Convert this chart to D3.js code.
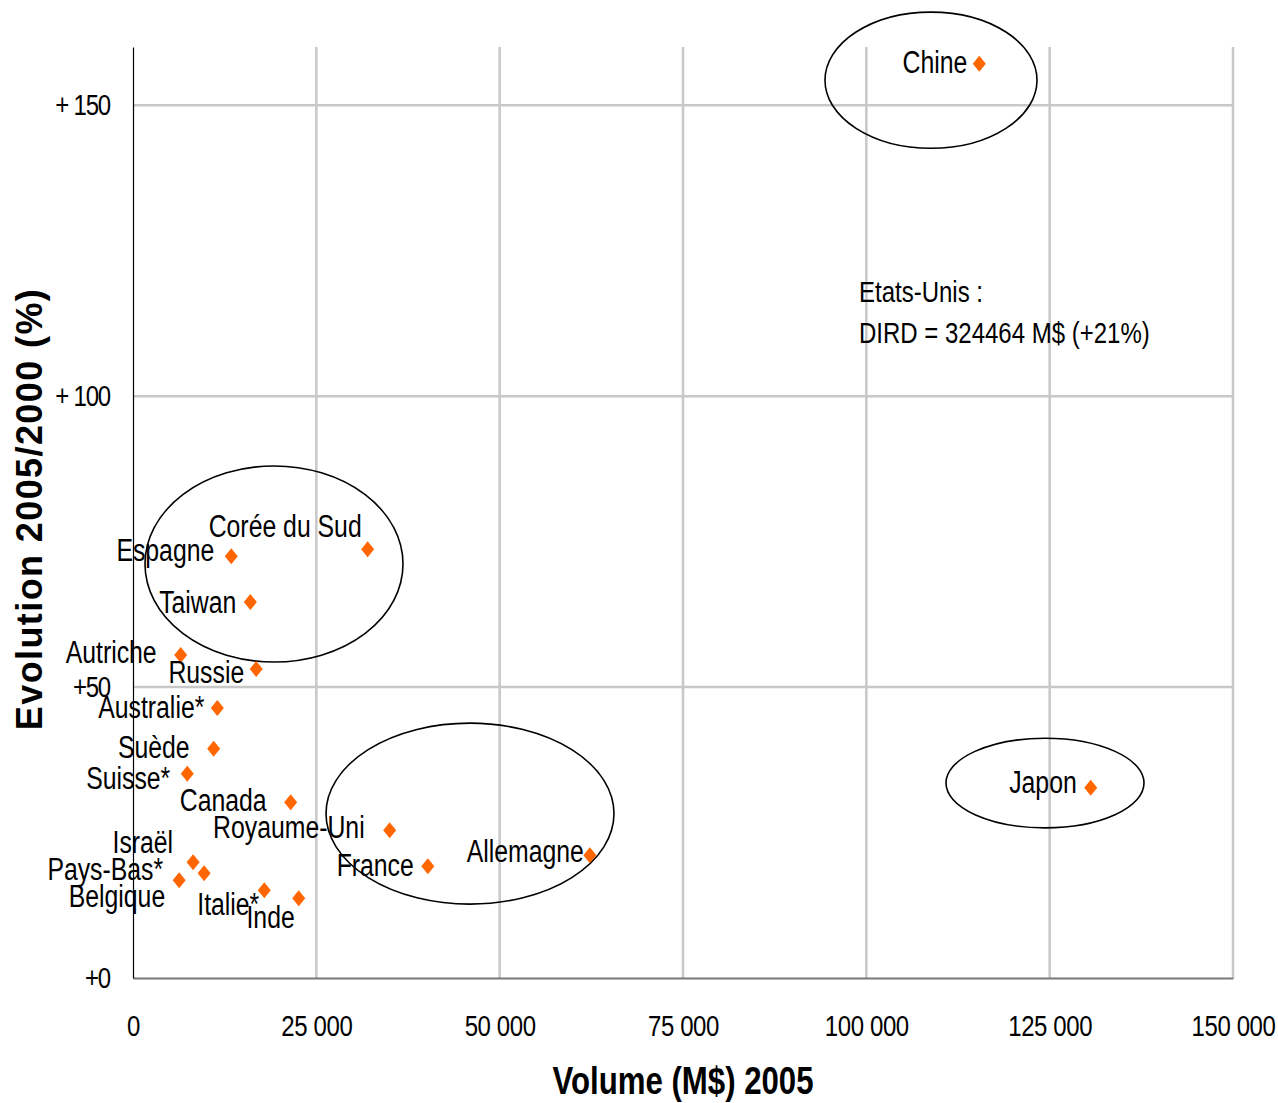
<!DOCTYPE html>
<html lang="fr">
    <head>
        <meta charset="UTF-8"/>
        <title>DIRD 2005</title>
        <script src="https://d3js.org/d3.v7.min.js"></script>
        <style>
            body { margin: 0; background-color: #fff; }
            svg { display: block; }
            text { font-family: "Liberation Sans", Arial, sans-serif; fill: #000; }
        </style>
    </head>
    <body>
        <div id="graphique"></div>
        <script>
            // donnees
            const pays = ["Chine", "Japon", "Corée du Sud", "Espagne", "Taiwan", "Autriche", "Russie",
                "Australie*", "Suède", "Suisse*", "Canada", "Royaume-Uni", "Allemagne", "France",
                "Israël", "Pays-Bas*", "Belgique", "Italie*", "Inde"];
            const volumes = [115400, 130600, 32000, 13400, 16000, 6500, 16800,
                11500, 11000, 7400, 21500, 35000, 62300, 40200,
                8200, 9700, 6300, 17900, 22600];
            const evolutions = [157.1, 32.7, 73.7, 72.5, 64.6, 55.5, 53.1,
                46.4, 39.4, 35.1, 30.2, 25.4, 21.1, 19.2,
                19.9, 18.0, 16.8, 15.1, 13.7];
            const xTicks = [0, 25000, 50000, 75000, 100000, 125000, 150000];
            const xTickLabels = ["0", "25 000", "50 000", "75 000", "100 000", "125 000", "150 000"];
            const yTicks = [0, 50, 100, 150];
            const yTickLabels = ["+0", "+50", "+ 100", "+ 150"];

            // placement des etiquettes (fin du texte / ligne de base, en px par rapport au point)
            const decalages = [[-12, 9], [-14, 5], [-6, -12], [-17, 5], [-14, 11], [-24, 8], [-12, 14],
                [-13, 10], [-24, 9], [-17, 15], [-24, 9], [-25, 8], [-6, 7], [-14, 10],
                [-20, -9], [-41, 7], [-14, 27], [-5, 25], [-4, 30]];

            // ellipses de regroupement : [x0, x1, y0, y1] en unites des axes
            const ellipses = [
                [94364, 123273, 166.0, 142.6],
                [1636, 36818, 88.0, 54.3],
                [26318, 65591, 43.8, 12.7],
                [110864, 137864, 41.2, 25.8]
            ];

            // police etroite simulee
            const etroit = 0.8;

            var margin = {top: 47, right: 45, bottom: 125, left: 133},
                width = 1278 - margin.left - margin.right,
                height = 1103 - margin.top - margin.bottom;

            let svg = d3.select("#graphique")
              .append("svg")
                .attr("width", width + margin.left + margin.right)
                .attr("height", height + margin.top + margin.bottom)
              .append("g")
                .attr("transform", "translate(" + margin.left + "," + margin.top + ")");

            var xScale = d3.scaleLinear().domain([0, 150000]).range([0, width]);
            var yScale = d3.scaleLinear().domain([0, 160]).range([height, 0]);

            function texte(parent, x, y, str, taille, ancre) {
                let g = parent.append("g")
                    .attr("transform", "translate(" + x + "," + y + ")scale(" + etroit + ",1)");
                return g.append("text")
                    .attr("text-anchor", ancre || "start")
                    .attr("font-size", taille)
                    .text(str);
            }

            // grille
            svg.append("g")
                .selectAll("line")
                .data(xTicks.slice(1))
                .join("line")
                .attr("x1", d => xScale(d)).attr("x2", d => xScale(d))
                .attr("y1", 0).attr("y2", height)
                .attr("stroke", "#c8c8c8").attr("stroke-width", 2.5);
            svg.append("g")
                .selectAll("line")
                .data(yTicks.slice(1))
                .join("line")
                .attr("x1", 0).attr("x2", width)
                .attr("y1", d => yScale(d)).attr("y2", d => yScale(d))
                .attr("stroke", "#c8c8c8").attr("stroke-width", 2.5);

            // axes
            let axeX = svg.append("g")
                .attr("transform", "translate(0," + height + ")")
                .call(d3.axisBottom(xScale).tickValues(xTicks).tickSize(0).tickPadding(37)
                    .tickFormat((d, i) => xTickLabels[i]));
            axeX.select(".domain").attr("stroke", "#777").attr("stroke-width", 2);
            axeX.selectAll("text")
                .attr("font-size", 30).attr("font-family", null)
                .attr("letter-spacing", -0.5)
                .attr("transform", "scale(" + etroit + ",1)");

            let axeY = svg.append("g")
                .call(d3.axisLeft(yScale).tickValues(yTicks).tickSize(0)
                    .tickFormat((d, i) => yTickLabels[i]));
            axeY.select(".domain").attr("stroke", "#000").attr("stroke-width", 1.2);
            axeY.selectAll("text")
                .attr("font-size", 30).attr("font-family", null)
                .attr("letter-spacing", -1.5)
                .attr("x", -23 / etroit)
                .attr("transform", "scale(" + etroit + ",1)");

            // titres des axes
            texte(svg, width / 2, height + 116, "Volume (M$) 2005", 39, "middle")
                .attr("font-weight", "bold");
            svg.append("text")
                .attr("transform", "translate(" + (-91) + "," + (509 - margin.top) + ")rotate(-90)")
                .attr("text-anchor", "middle")
                .attr("font-size", 36)
                .attr("font-weight", "bold")
                .attr("letter-spacing", 1.4)
                .text("Evolution 2005/2000 (%)");

            // ellipses
            svg.append("g")
                .selectAll("ellipse")
                .data(ellipses)
                .join("ellipse")
                .attr("cx", d => (xScale(d[0]) + xScale(d[1])) / 2)
                .attr("cy", d => (yScale(d[2]) + yScale(d[3])) / 2)
                .attr("rx", d => (xScale(d[1]) - xScale(d[0])) / 2)
                .attr("ry", d => (yScale(d[3]) - yScale(d[2])) / 2)
                .attr("fill", "none")
                .attr("stroke", "#000")
                .attr("stroke-width", 1.6);

            // points
            let points = pays.map((p, i) => ({pays: p, volume: volumes[i], evolution: evolutions[i], dec: decalages[i]}));
            svg.append("g")
                .selectAll("path")
                .data(points)
                .join("path")
                .attr("transform", d => "translate(" + xScale(d.volume) + "," + yScale(d.evolution) + ")")
                .attr("d", "M0,-8L6.5,0L0,8L-6.5,0Z")
                .attr("fill", "#ff6600");

            let etiquettes = svg.append("g");
            points.forEach(d => {
                texte(etiquettes, xScale(d.volume) + d.dec[0], yScale(d.evolution) + d.dec[1], d.pays, 31, "end");
            });

            // note Etats-Unis
            let xNote = xScale(99000);
            texte(svg, xNote, 302 - margin.top, "Etats-Unis :", 30);
            texte(svg, xNote, 343 - margin.top, "DIRD = 324464 M$ (+21%)", 30);
        </script>
    </body>
</html>
